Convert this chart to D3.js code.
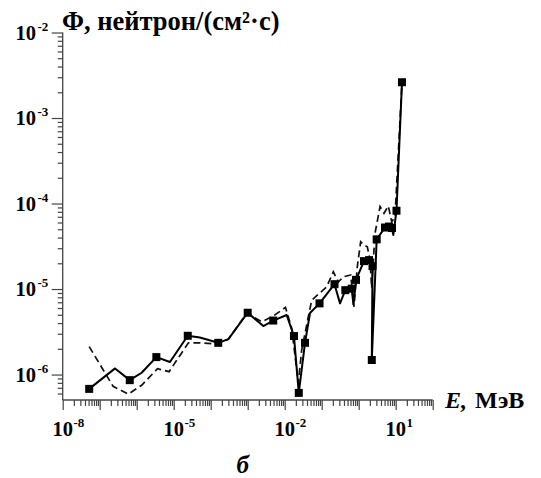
<!DOCTYPE html>
<html>
<head>
<meta charset="utf-8">
<script src="https://cdn.jsdelivr.net/npm/d3@7"></script>
<style>
  html, body { margin: 0; padding: 0; background: #fff; }
  svg { display: block; }
  text { font-family: "Liberation Serif", "Times New Roman", serif; font-weight: bold; fill: #000; }
</style>
</head>
<body>
<svg id="chart" width="541" height="478"></svg>
<script>
// Neutron flux spectrum, E in MeV, flux in neutron/(cm²·s)
const solidE = [5.2e-8, 2.6e-7, 6.5e-7, 1.36e-6, 3.4e-6, 7.9e-6, 2.4e-5, 5.1e-5, 1.6e-4, 3.0e-4,
  1.0e-3, 2.64e-3, 4.9e-3, 0.0113, 0.0178, 0.024, 0.0354, 0.0483, 0.0873, 0.222,
  0.313, 0.435, 0.647, 0.72, 0.845, 1.39, 1.90, 2.36, 2.26, 3.06,
  5.14, 6.59, 7.94, 8.61, 10.5, 14.8];
const solidPhi = [6.8e-7, 1.18e-6, 8.6e-7, 1.05e-6, 1.60e-6, 1.40e-6, 2.84e-6, 2.71e-6, 2.35e-6, 2.60e-6,
  5.28e-6, 3.69e-6, 4.28e-6, 4.97e-6, 2.82e-6, 6.1e-7, 2.35e-6, 5.24e-6, 6.8e-6, 1.14e-5,
  6.8e-6, 9.7e-6, 1.01e-5, 6.6e-6, 1.28e-5, 2.12e-5, 2.18e-5, 1.86e-5, 1.48e-6, 3.81e-5,
  5.24e-5, 5.38e-5, 5.17e-5, 4.28e-5, 8.24e-5, 2.62e-3];
const solidMarked = [1, 0, 1, 0, 1, 0, 1, 0, 1, 0,
  1, 0, 1, 0, 1, 1, 1, 0, 1, 1,
  0, 1, 1, 0, 1, 1, 1, 1, 1, 1,
  1, 1, 1, 0, 1, 1];

const dashE = [5.2e-8, 2.3e-7, 5.9e-7, 1.36e-6, 3.65e-6, 7.5e-6, 2.5e-5, 5.1e-5, 1.45e-4, 3.0e-4,
  9.4e-4, 2.4e-3, 4.9e-3, 0.0105, 0.0155, 0.0233, 0.0288, 0.0435, 0.0537, 0.136,
  0.206, 0.281, 0.384, 0.608, 0.746, 0.916, 1.13, 1.39, 1.71, 2.02,
  2.24, 2.76, 3.77, 4.83, 6.31, 7.8, 9.57, 14.8];
const dashPhi = [2.12e-6, 7.3e-7, 5.9e-7, 7.5e-7, 1.17e-6, 1.08e-6, 2.35e-6, 2.35e-6, 2.27e-6, 2.58e-6,
  5.2e-6, 4.15e-6, 4.83e-6, 6.1e-6, 3.47e-6, 7.96e-7, 1.94e-6, 4.74e-6, 7.4e-6, 1.06e-5,
  1.59e-5, 1.21e-5, 1.39e-5, 1.46e-5, 6.2e-6, 1.82e-5, 3.57e-5, 3.27e-5, 3.12e-5, 2.18e-5,
  1.03e-5, 4.48e-5, 9.2e-5, 7.7e-5, 9.35e-5, 6.1e-5, 7.0e-5, 2.62e-3];

// Decade exponents that carry a label
const xLabelExps = [-8, -5, -2, 1];
const yLabelExps = [-6, -5, -4, -3, -2];

const titleText = "Φ, нейтрон/(см²·с)";
const xAxisSymbol = "E,";
const xAxisUnit = "МэВ";
const panelLetter = "б";

const svg = d3.select("#chart");

const x = d3.scaleLog().domain([1e-8, 1e2]).range([62.7, 432.7]);
const y = d3.scaleLog().domain([5.04e-7, 1e-2]).range([400, 32.5]);

// Major decade ticks and 2..9 minor ticks
function logTicks(lo, hi) {
  const major = [], minor = [];
  for (let e = Math.floor(Math.log10(lo)); e <= Math.ceil(Math.log10(hi)); e++) {
    const d = Math.pow(10, e);
    if (d >= lo * 0.999 && d <= hi * 1.001) major.push(d);
    for (let m = 2; m <= 9; m++) {
      const v = m * d;
      if (v >= lo && v <= hi) minor.push(v);
    }
  }
  return { major, minor };
}

const axisColor = "#444";
const xt = logTicks(1e-8, 1e2);
const yt = logTicks(5.04e-7, 1e-2);

function styleAxis(g) {
  g.select(".domain").remove();
  g.selectAll(".tick line").attr("stroke", axisColor).attr("stroke-width", 1.2);
  g.selectAll(".tick text").remove();
}

// x axis: minor and major ticks
svg.append("g").attr("transform", "translate(0,400)")
  .call(d3.axisBottom(x).tickValues(xt.minor).tickSize(6).tickFormat(""))
  .call(styleAxis);
svg.append("g").attr("transform", "translate(0,400)")
  .call(d3.axisBottom(x).tickValues(xt.major).tickSize(10).tickFormat(""))
  .call(styleAxis);
svg.append("line")
  .attr("x1", x(1e-8)).attr("x2", x(1e2)).attr("y1", 400).attr("y2", 400)
  .attr("stroke", axisColor).attr("stroke-width", 1.3);

// y axis
svg.append("g").attr("transform", "translate(62.7,0)")
  .call(d3.axisLeft(y).tickValues(yt.minor).tickSize(5).tickFormat(""))
  .call(styleAxis);
svg.append("g").attr("transform", "translate(62.7,0)")
  .call(d3.axisLeft(y).tickValues(yt.major).tickSize(11).tickFormat(""))
  .call(styleAxis);
svg.append("line")
  .attr("x1", 62.7).attr("x2", 62.7).attr("y1", y(1e-2)).attr("y2", 400)
  .attr("stroke", axisColor).attr("stroke-width", 1.3);

// Power-of-ten tick labels
xLabelExps.forEach(e => {
  const cx = x(Math.pow(10, e));
  const t = svg.append("text").attr("y", 436).attr("font-size", 20.5);
  t.append("tspan").attr("x", cx - 10.3).text("10");
  t.append("tspan").attr("dy", -9).attr("dx", 0.5).attr("font-size", 13).text(e < 0 ? "-" + (-e) : String(e));
});
yLabelExps.forEach(e => {
  const cy = y(Math.pow(10, e));
  const t = svg.append("text").attr("x", 15.5).attr("y", cy + 7).attr("font-size", 20.5);
  t.append("tspan").text("10");
  t.append("tspan").attr("dy", -9).attr("dx", 1.5).attr("font-size", 13).text(e < 0 ? "-" + (-e) : String(e));
});

// Dashed series
const line = d3.line().x(d => x(d[0])).y(d => y(d[1]));
svg.append("path")
  .datum(dashE.map((e, i) => [e, dashPhi[i]]))
  .attr("d", line)
  .attr("fill", "none").attr("stroke", "#111").attr("stroke-width", 1.7)
  .attr("stroke-dasharray", "7,4");

// Solid series with square markers
const solidPts = solidE.map((e, i) => [e, solidPhi[i], solidMarked[i]]);
svg.append("path")
  .datum(solidPts)
  .attr("d", line)
  .attr("fill", "none").attr("stroke", "#000").attr("stroke-width", 2)
  .attr("stroke-linejoin", "round");
const ms = 8;
svg.selectAll("rect.marker")
  .data(solidPts.filter(d => d[2]))
  .join("rect").attr("class", "marker")
  .attr("x", d => x(d[0]) - ms / 2).attr("y", d => y(d[1]) - ms / 2)
  .attr("width", ms).attr("height", ms).attr("fill", "#000");

// Titles
svg.append("text").attr("x", 62).attr("y", 30).attr("font-size", 26.5).text(titleText);
const xl = svg.append("text").attr("x", 445).attr("y", 408).attr("font-size", 24);
xl.append("tspan").attr("font-style", "italic").text(xAxisSymbol);
xl.append("tspan").attr("dx", 8).text(xAxisUnit);
svg.append("text").attr("x", 236.5).attr("y", 473).attr("font-size", 25)
  .attr("font-style", "italic").text(panelLetter);
</script>
</body>
</html>
